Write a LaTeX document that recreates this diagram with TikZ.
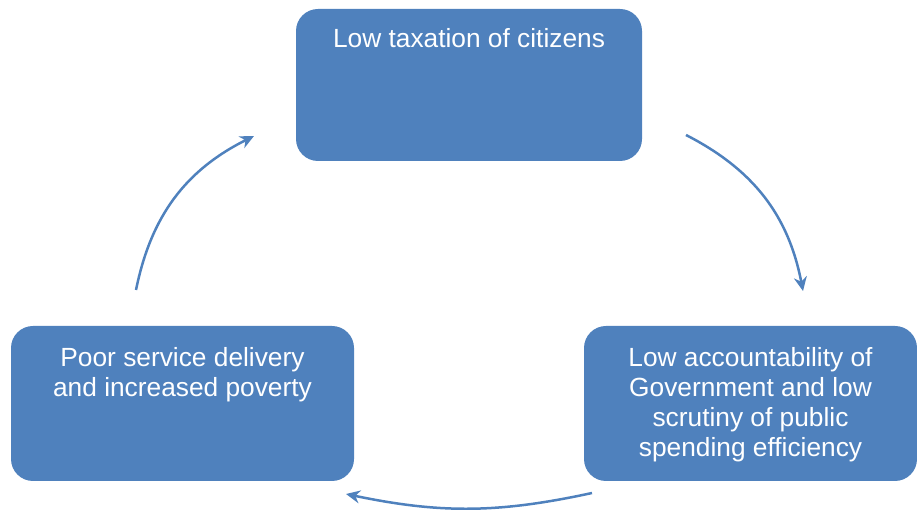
\documentclass[tikz,border=0pt]{standalone}
\usepackage{fontspec}
\setmainfont{Liberation Sans}
\usetikzlibrary{positioning,arrows.meta}
\definecolor{cycleblue}{HTML}{4F81BD}

\begin{document}
\begin{tikzpicture}[x=1pt,y=1pt,
  box/.style={rectangle,rounded corners=22pt,fill=cycleblue,inner sep=0pt},
  boxtext/.style={text=white,align=center,inner sep=0pt,font=\fontsize{26.3}{30}\selectfont},
  cyc/.style={draw=cycleblue,line width=2.5pt,-{Stealth[length=14pt,width=13pt]}}]
\useasboundingbox (0,0) rectangle (917,510);
% the three stages
\node [box,minimum width=346pt,minimum height=152pt] (tax) at (469,425) {};
\node [box,minimum width=333pt,minimum height=155pt] (account) at (750.5,106.5) {};
\node [box,minimum width=343pt,minimum height=155pt] (service) at (182.5,106.5) {};
\node [boxtext,below=19pt of tax.north] (taxtext) {Low taxation of citizens};
\node [boxtext,below=21pt of account.north] (accounttext) {Low accountability of\\Government and low\\scrutiny of public\\spending efficiency};
\node [boxtext,below=21pt of service.north] (servicetext) {Poor service delivery\\and increased poverty};
% ends of the cycle arrows
\coordinate (taxout) at (686,375);
\coordinate (accountin) at (803,219);
\coordinate (accountout) at (592,17);
\coordinate (servicein) at (346,16);
\coordinate (serviceout) at (136,220);
\coordinate (taxin) at (254,374);
\draw [cyc] (taxout) to[bend left=26] (accountin);
\draw [cyc] (accountout) to[bend left=12] (servicein);
\draw [cyc] (serviceout) to[bend left=26] (taxin);
\end{tikzpicture}
\end{document}
